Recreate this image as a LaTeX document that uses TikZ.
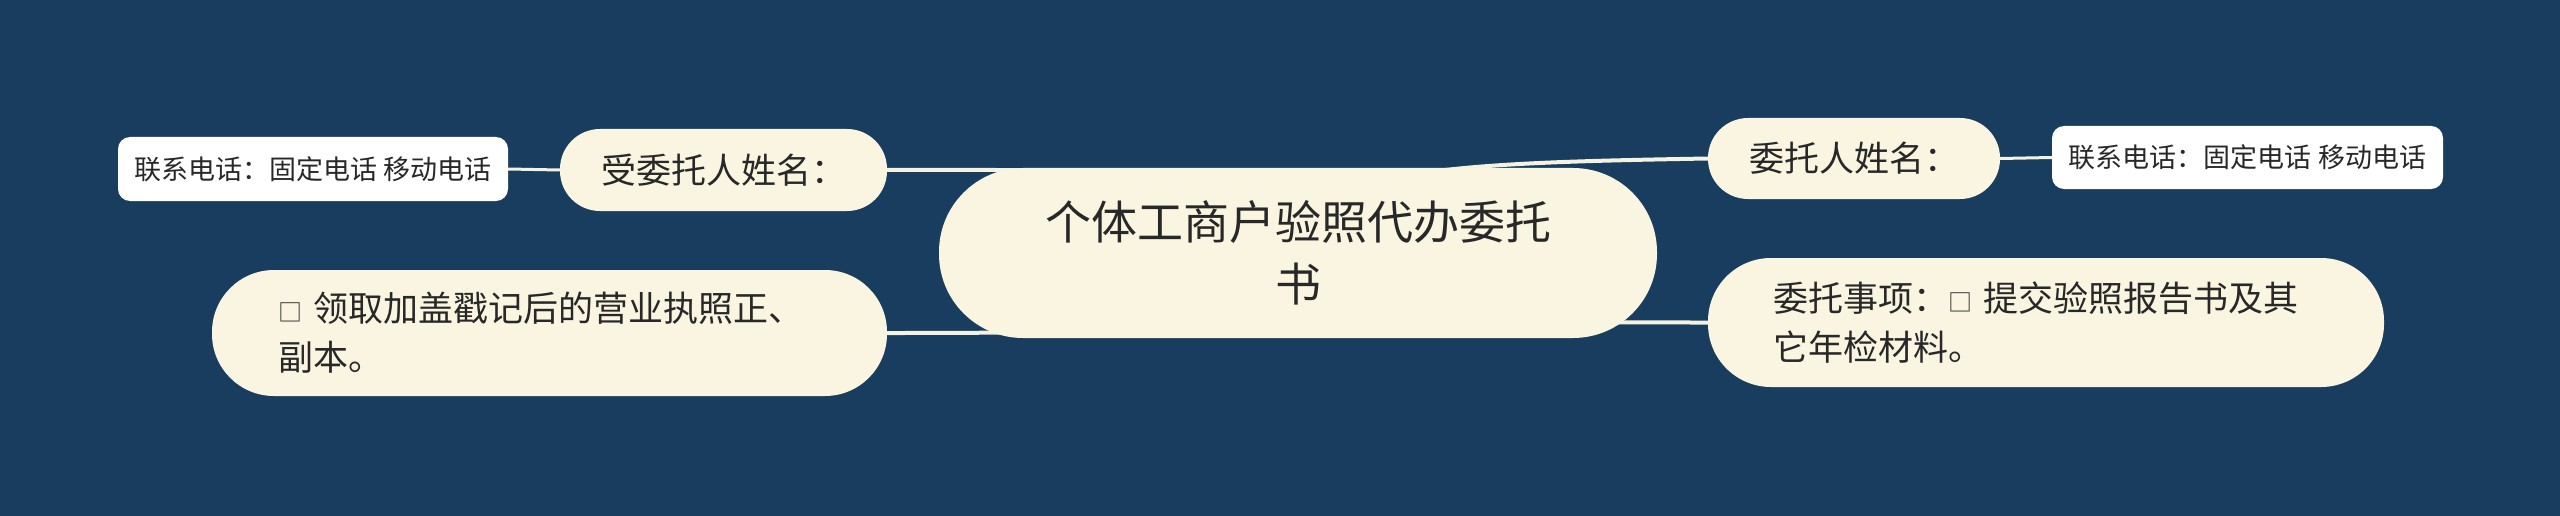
\documentclass[tikz,border=0pt]{standalone}
\usepackage{fontspec}
\setmainfont{Noto Sans CJK SC}
\definecolor{bgblue}{RGB}{25,61,94}
\definecolor{cream}{RGB}{249,245,225}
\definecolor{ink}{RGB}{40,40,40}
\definecolor{linkcol}{RGB}{246,242,226}
\newcommand{\smallsq}{{\fontsize{24}{24}\selectfont □}}
\pgfdeclarelayer{bg}
\pgfdeclarelayer{links}
\pgfsetlayers{bg,links,main}
\begin{document}
\begin{tikzpicture}[x=1pt,y=-1pt,
  bubble/.style={fill=cream, text=ink, inner sep=0pt},
  card/.style={fill=white, text=ink, inner sep=0pt, rounded corners=12pt},
  link/.style={draw=linkcol, line width=4pt, line cap=round}]
\begin{pgfonlayer}{bg}
\fill[bgblue] (0,0) rectangle (2560,516);
\end{pgfonlayer}
\useasboundingbox (0,0) rectangle (2560,516);

\node[bubble, minimum width=718pt, minimum height=170pt, rounded corners=84pt,
  align=center, font=\fontsize{46}{62}\selectfont] (root) at (1298,253)
  {个体工商户验照代办委托\\书};

\node[bubble, minimum width=327pt, minimum height=82pt, rounded corners=40pt,
  font=\fontsize{35}{42}\selectfont] (ltop) at (723.5,170) {受委托人姓名：};
\node[card, minimum width=390pt, minimum height=64pt,
  font=\fontsize{27}{32}\selectfont] (lcon) at (313,169) {联系电话：固定电话 移动电话};

\node[bubble, minimum width=292pt, minimum height=81pt, rounded corners=40pt,
  font=\fontsize{35}{42}\selectfont] (rtop) at (1854,158.5) {委托人姓名：};
\node[card, minimum width=391pt, minimum height=63pt,
  font=\fontsize{27}{32}\selectfont] (rcon) at (2247.5,157.5) {联系电话：固定电话 移动电话};

\node[bubble, minimum width=675pt, minimum height=126pt, rounded corners=62pt,
  text width=543pt, align=left, font=\fontsize{35}{49}\selectfont] (lbot) at (549.5,333)
  {\smallsq\ 领取加盖戳记后的营业执照正、\\副本。};

\node[bubble, minimum width=676pt, minimum height=129pt, rounded corners=63pt,
  text width=546pt, align=left, font=\fontsize{35}{49}\selectfont] (rbot) at (2046,322.5)
  {委托事项：\smallsq\ 提交验照报告书及其\\它年检材料。};

\begin{pgfonlayer}{links}
\draw[link] (root.center) .. controls (1298,169) and (1100,169) .. (ltop.east);
\draw[link] (root.center) .. controls (1298,168) and (1450,163) .. (rtop.west);
\draw[link] (root.center) .. controls (1298,322.5) and (1500,322.5) .. (rbot.west);
\draw[link] (root.center) .. controls (1298,333) and (1100,333) .. (lbot.east);
\draw[link, line width=3pt] (ltop.west) -- (lcon.east);
\draw[link, line width=3pt] (rtop.east) -- (rcon.west);
\end{pgfonlayer}
\end{tikzpicture}
\end{document}
